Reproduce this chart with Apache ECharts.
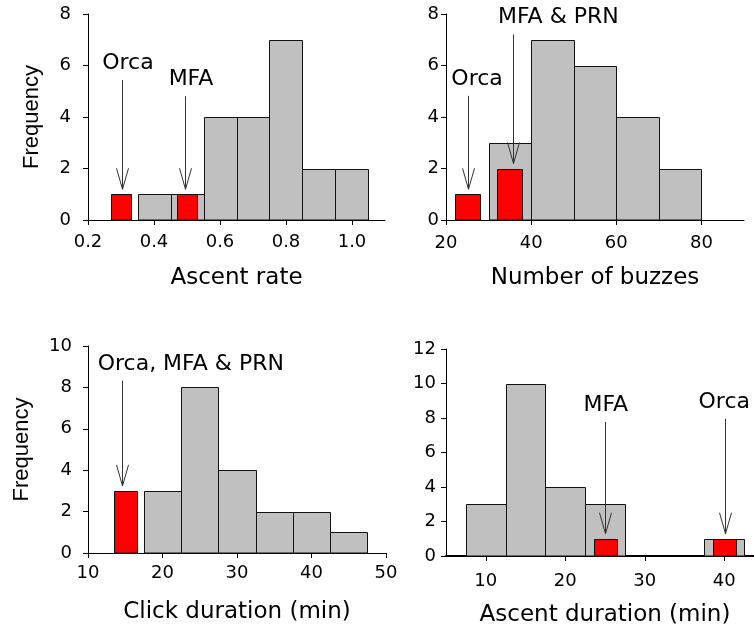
<!DOCTYPE html>
<html>
<head>
<meta charset="utf-8">
<script src="https://cdn.jsdelivr.net/npm/echarts@6/dist/echarts.min.js"></script>
<style>
  html, body { margin: 0; padding: 0; background: #fff; }
  #chart { width: 754px; height: 628px; }
</style>
</head>
<body>
<div id="chart"></div>
<script>
// ---- Panel A: Ascent rate ----
const ascentRateEdges = [0.35, 0.45, 0.55, 0.65, 0.75, 0.85, 0.95, 1.05];
const ascentRateCounts = [1, 1, 4, 4, 7, 2, 2];
const ascentRateMarkX = [0.3, 0.5];
const ascentRateMarkCounts = [1, 1];
const ascentRateNotes = ['Orca', 'MFA'];
const ascentRateArrowX = [0.303, 0.495];
const ascentRateNoteX = [0.321, 0.512];
const ascentRateNoteY = [6.1, 5.47];
const ascentRateTicks = [0.2, 0.4, 0.6, 0.8, 1.0];

// ---- Panel B: Number of buzzes ----
const buzzEdges = [30, 40, 50, 60, 70, 80];
const buzzCounts = [3, 7, 6, 4, 2];
const buzzMarkX = [25, 35];
const buzzMarkCounts = [1, 2];
const buzzNotes = ['Orca', 'MFA & PRN'];
const buzzArrowX = [25.1, 35.8];
const buzzNoteX = [27.3, 46.4];
const buzzNoteY = [5.48, 7.86];
const buzzTicks = [20, 40, 60, 80];

// ---- Panel C: Click duration ----
const clickEdges = [17.5, 22.5, 27.5, 32.5, 37.5, 42.5, 47.5];
const clickCounts = [3, 8, 4, 2, 2, 1];
const clickMarkX = [15];
const clickMarkCounts = [3];
const clickNotes = ['Orca, MFA & PRN'];
const clickArrowX = [14.5];
const clickNoteX = [23.8];
const clickNoteY = [9.14];
const clickTicks = [10, 20, 30, 40, 50];

// ---- Panel D: Ascent duration ----
const ascentDurEdges = [7.5, 12.5, 17.5, 22.5, 27.5, 32.5, 37.5, 42.5];
const ascentDurCounts = [3, 10, 4, 3, 0, 0, 1];
const ascentDurMarkX = [25, 40];
const ascentDurMarkCounts = [1, 1];
const ascentDurNotes = ['MFA', 'Orca'];
const ascentDurArrowX = [25, 40.06];
const ascentDurNoteX = [25.1, 40];
const ascentDurNoteY = [8.75, 8.94];
const ascentDurTicks = [10, 20, 30, 40];

const yMaxes = [8, 8, 10, 12];
const xTitles = ['Ascent rate', 'Number of buzzes', 'Click duration (min)', 'Ascent duration (min)'];

const TXT = '"DejaVu Sans", sans-serif';
const chart = echarts.init(document.getElementById('chart'), null, { renderer: 'canvas' });

function histSeries(idx, edges, counts) {
  return {
    type: 'custom', xAxisIndex: idx, yAxisIndex: idx, z: 2, silent: true,
    data: counts.map((c, i) => [edges[i], edges[i + 1], c]),
    renderItem: (params, api) => {
      const c = api.value(2);
      if (!c) return null;
      const p0 = api.coord([api.value(0), c]);
      const p1 = api.coord([api.value(1), 0]);
      const x0 = Math.round(p0[0]) + 0.5, x1 = Math.round(p1[0]) + 0.5;
      const y0 = Math.round(p0[1]) + 0.5, y1 = Math.round(p1[1]);
      return { type: 'rect', shape: { x: x0, y: y0, width: x1 - x0, height: y1 - y0 },
        style: { fill: '#c0c0c0', stroke: '#111', lineWidth: 1 } };
    }
  };
}
function markSeries(idx, xs, counts, wPx) {
  return {
    type: 'custom', xAxisIndex: idx, yAxisIndex: idx, z: 3, silent: true,
    data: xs.map((x, i) => [x, counts[i]]),
    renderItem: (params, api) => {
      const top = api.coord([api.value(0), api.value(1)]);
      const base = api.coord([api.value(0), 0]);
      const x0 = Math.round(top[0] - wPx / 2) + 0.5;
      const y0 = Math.round(top[1]) + 0.5;
      return { type: 'rect', shape: { x: x0, y: y0, width: wPx, height: Math.round(base[1]) - y0 },
        style: { fill: '#ff0000', stroke: '#111', lineWidth: 1 } };
    }
  };
}
function noteSeries(idx, notes, arrowX, counts, noteX, noteY) {
  return {
    type: 'custom', xAxisIndex: idx, yAxisIndex: idx, z: 4, silent: true, clip: false,
    data: notes.map((n, i) => [arrowX[i], counts[i], noteX[i], noteY[i]]),
    renderItem: (params, api) => {
      const tip = api.coord([api.value(0), api.value(1)]);
      const tx = Math.round(tip[0]) + 0.5;
      const ty = tip[1] - 5;
      const lab = api.coord([api.value(2), api.value(3)]);
      const topY = lab[1] + 17;
      return { type: 'group', children: [
        { type: 'line', shape: { x1: tx, y1: topY, x2: tx, y2: ty }, style: { stroke: '#333', lineWidth: 1 } },
        { type: 'polyline', shape: { points: [[tx - 6, ty - 21], [tx, ty], [tx + 6, ty - 21]] },
          style: { stroke: '#333', fill: null, lineWidth: 1 } },
        { type: 'text', x: lab[0], y: lab[1],
          style: { text: notes[params.dataIndex], font: '22px ' + TXT, fill: '#000', align: 'center', verticalAlign: 'middle' } }
      ] };
    }
  };
}

const grids = [
  { left: 88, top: 14, width: 297, height: 206 },
  { left: 446, top: 14, width: 298, height: 206 },
  { left: 88, top: 346, width: 298, height: 207 },
  { left: 446, top: 349, width: 318, height: 207 }
];
const xRanges = [[0.2, 1.1], [20, 90], [10, 50], [5, 45]];
const xTicks = [ascentRateTicks, buzzTicks, clickTicks, ascentDurTicks];
const xLabelMargins = [13, 14, 11, 16];
const xNameGaps = [47, 47, 48, 48];
const yLabelMargins = [17, 7, 16, 10];
const yNameGaps = [45, 0, 55, 0];

const option = {
  animation: false,
  backgroundColor: '#ffffff',
  grid: grids.map(g => Object.assign({ outerBoundsMode: 'none', containLabel: false }, g)),
  xAxis: grids.map((g, i) => ({
    type: 'value', gridIndex: i, min: xRanges[i][0], max: xRanges[i][1],
    name: xTitles[i], nameLocation: 'middle', nameGap: xNameGaps[i],
    nameTextStyle: { fontFamily: TXT, fontSize: 23, color: '#000' },
    axisLine: { show: true, onZero: false, lineStyle: { color: '#000', width: i === 3 ? 2 : 1 } },
    axisTick: { show: true, length: 5, inside: false, customValues: xTicks[i], lineStyle: { color: '#000' } },
    axisLabel: { show: true, customValues: xTicks[i], margin: xLabelMargins[i], fontFamily: TXT, fontSize: 18, color: '#000',
      formatter: v => (i === 0 ? v.toFixed(1) : String(v)) },
    splitLine: { show: false }
  })),
  yAxis: grids.map((g, i) => ({
    type: 'value', gridIndex: i, min: 0, max: yMaxes[i], interval: 2,
    name: (i === 0 || i === 2) ? 'Frequency' : '', nameLocation: 'middle', nameRotate: 90, nameGap: yNameGaps[i],
    nameTextStyle: { fontFamily: '"Liberation Sans", Arial, sans-serif', fontSize: 22, color: '#000' },
    axisLine: { show: true, lineStyle: { color: '#000', width: 1 } },
    axisTick: { show: true, length: 5, inside: false, lineStyle: { color: '#000' } },
    axisLabel: { show: true, margin: yLabelMargins[i], fontFamily: TXT, fontSize: 18, color: '#000' },
    splitLine: { show: false }
  })),
  series: [
    histSeries(0, ascentRateEdges, ascentRateCounts),
    markSeries(0, ascentRateMarkX, ascentRateMarkCounts, 20),
    noteSeries(0, ascentRateNotes, ascentRateArrowX, ascentRateMarkCounts, ascentRateNoteX, ascentRateNoteY),
    histSeries(1, buzzEdges, buzzCounts),
    markSeries(1, buzzMarkX, buzzMarkCounts, 25),
    noteSeries(1, buzzNotes, buzzArrowX, buzzMarkCounts, buzzNoteX, buzzNoteY),
    histSeries(2, clickEdges, clickCounts),
    markSeries(2, clickMarkX, clickMarkCounts, 23),
    noteSeries(2, clickNotes, clickArrowX, clickMarkCounts, clickNoteX, clickNoteY),
    histSeries(3, ascentDurEdges, ascentDurCounts),
    markSeries(3, ascentDurMarkX, ascentDurMarkCounts, 23),
    noteSeries(3, ascentDurNotes, ascentDurArrowX, ascentDurMarkCounts, ascentDurNoteX, ascentDurNoteY)
  ]
};
chart.setOption(option);
</script>
</body>
</html>
